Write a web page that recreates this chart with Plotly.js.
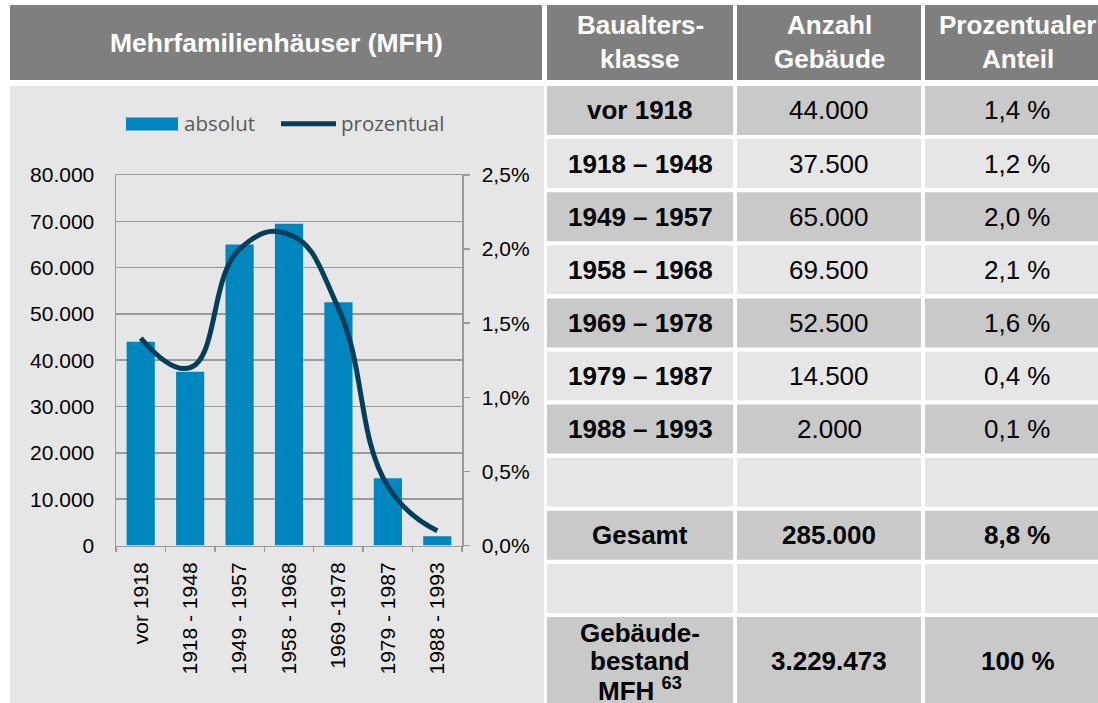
<!DOCTYPE html>
<html>
<head>
<meta charset="utf-8">
<script src="https://cdn.plot.ly/plotly-3.0.1.min.js"></script>
<style>html,body{margin:0;padding:0;background:#fff;}#chart{width:1098px;height:703px;}</style>
</head>
<body>
<div id="chart"></div>
<script>
// ---------- data ----------
const chartCategories = ['vor 1918', '1918 - 1948', '1949 - 1957', '1958 - 1968', '1969 -1978', '1979 - 1987', '1988 - 1993'];
const tableClasses = ['vor 1918', '1918 – 1948', '1949 – 1957', '1958 – 1968', '1969 – 1978', '1979 – 1987', '1988 – 1993'];
const buildingCounts = [44000, 37500, 65000, 69500, 52500, 14500, 2000];
const buildingShares = [1.4, 1.2, 2.0, 2.1, 1.6, 0.4, 0.1];
const totalLabel = 'Gesamt';
const totalCount = 285000;
const totalShare = 8.8;
const stockLabel = 'Gebäude-<br>bestand<br>MFH <sup>63</sup>';
const stockCount = 3229473;
const stockShare = 100;
const chartTitle = 'Mehrfamilienhäuser (MFH)';
const tableHeaders = ['Baualters-<br>klasse', 'Anzahl<br>Gebäude', 'Prozentualer<br>Anteil'];
const seriesNames = ['absolut', 'prozentual'];

// ---------- styling / layout constants ----------
const W = 1098, H = 703;
const BAR_COLOR = '#0086bf';
const LINE_COLOR = '#033f5b';
const HEAD_FILL = '#7f7f7f';
const DARK_FILL = '#c9c9c9';
const LIGHT_FILL = '#e6e6e6';
const AXIS_COLOR = '#9a9a9a';
const TFONT = 'Liberation Sans, Arial, sans-serif';

const px = x => x / W;
const py = y => 1 - y / H;

function fmtInt(n) { return String(n).replace(/\B(?=(\d{3})+(?!\d))/g, '.'); }
function fmtShare(v) { return (Number.isInteger(v) && v >= 10 ? String(v) : v.toFixed(1).replace('.', ',')) + ' %'; }

const shapes = [];
const annotations = [];

function rect(x0, y0, x1, y1, fill) {
  shapes.push({type: 'rect', xref: 'paper', yref: 'paper', layer: 'below',
    x0: px(x0), x1: px(x1), y0: py(y1), y1: py(y0), fillcolor: fill, line: {width: 0}});
}
function text(x, y, t, opts) {
  annotations.push(Object.assign({xref: 'paper', yref: 'paper', x: px(x), y: py(y), text: t,
    showarrow: false, xanchor: 'center', yanchor: 'middle',
    font: {family: TFONT, size: 26, color: '#000'}}, opts || {}));
}
function multiline(x, yc, t, spacing, bold, color) {
  const lines = t.split('<br>');
  const n = lines.length;
  lines.forEach((ln, k) => {
    const y = yc + (k - (n - 1) / 2) * spacing;
    text(x, y, bold ? '<b>' + ln + '</b>' : ln, {font: {family: TFONT, size: 26, color: color || '#000'}});
  });
}

// left panel
rect(10, 5, 542, 80, HEAD_FILL);
rect(10, 86, 544, 704, LIGHT_FILL);
text(276, 43, '<b>' + chartTitle + '</b>', {font: {family: TFONT, size: 26.5, color: '#fff'}});

// table
const cols = [[547, 733], [737, 921], [925, 1110]];
const colCenter = c => (c[0] + c[1]) / 2;
cols.forEach((c, j) => {
  rect(c[0], 5, c[1], 80, HEAD_FILL);
  multiline(colCenter(c), 42, tableHeaders[j], 34, true, '#fff');
});

const rows = [];
tableClasses.forEach((cl, i) => rows.push({cells: [cl, fmtInt(buildingCounts[i]), fmtShare(buildingShares[i])], bold: [true, false, false]}));
rows.push({cells: ['', '', ''], bold: [false, false, false]});
rows.push({cells: [totalLabel, fmtInt(totalCount), fmtShare(totalShare)], bold: [true, true, true]});
rows.push({cells: ['', '', ''], bold: [false, false, false]});
rows.push({cells: [stockLabel, fmtInt(stockCount), fmtShare(stockShare)], bold: [true, true, true], tall: true});

const ROW0 = 86, PITCH = 53.1, RH = 49;
rows.forEach((r, i) => {
  const top = ROW0 + i * PITCH;
  const bottom = r.tall ? 704 : top + RH;
  const fill = i % 2 === 0 ? DARK_FILL : LIGHT_FILL;
  const yc = r.tall ? 661 : top + RH / 2;
  cols.forEach((c, j) => {
    rect(c[0], top, c[1], bottom, fill);
    if (r.cells[j]) multiline(colCenter(c), yc, r.cells[j], 28.5, r.bold[j], '#000');
  });
});

// manual legend
rect(126, 117.5, 178, 130.5, BAR_COLOR);
shapes.push({type: 'line', xref: 'paper', yref: 'paper', x0: px(281), x1: px(336), y0: py(123.7), y1: py(123.7),
  line: {color: LINE_COLOR, width: 5}});
text(182, 122.5, seriesNames[0], {xanchor: 'left', font: {family: 'Open Sans, sans-serif', size: 20.5, color: '#595959'}});
text(339, 122.5, seriesNames[1], {xanchor: 'left', font: {family: 'Open Sans, sans-serif', size: 20.5, color: '#595959'}});

// ---------- traces ----------
const traces = [
  {type: 'bar', name: seriesNames[0], x: chartCategories, y: buildingCounts, marker: {color: BAR_COLOR}, hoverinfo: 'skip'},
  {type: 'scatter', mode: 'lines', name: seriesNames[1], x: chartCategories, y: buildingShares, yaxis: 'y2',
   line: {color: LINE_COLOR, width: 5, shape: 'spline', smoothing: 1.3}, hoverinfo: 'skip'}
];

const tickFont = {family: TFONT, size: 21, color: '#000'};
const layout = {
  width: W, height: H,
  margin: {l: 0, r: 0, t: 0, b: 0},
  paper_bgcolor: '#ffffff',
  plot_bgcolor: 'rgba(0,0,0,0)',
  separators: ',.',
  showlegend: false,
  bargap: 0.43,
  xaxis: {
    domain: [px(116), px(462)], type: 'category', tickson: 'boundaries',
    ticks: 'outside', ticklen: 5, tickwidth: 1.5, tickcolor: AXIS_COLOR,
    showline: true, linecolor: AXIS_COLOR, linewidth: 1.5, mirror: true,
    showgrid: false, tickangle: -90, tickfont: tickFont, ticklabelstandoff: 7, fixedrange: true
  },
  yaxis: {
    domain: [py(545.5), py(175)], range: [0, 80000], dtick: 10000, tickformat: ',d',
    showgrid: true, gridcolor: AXIS_COLOR, gridwidth: 1.6, zeroline: false,
    showline: true, linecolor: AXIS_COLOR, linewidth: 1.5, ticks: '',
    tickfont: tickFont, ticklabelstandoff: 16, fixedrange: true
  },
  yaxis2: {
    overlaying: 'y', side: 'right', anchor: 'x', range: [0, 2.5], dtick: 0.5, tickformat: '.1f', ticksuffix: '%',
    showgrid: false, zeroline: false, showline: true, linecolor: AXIS_COLOR, linewidth: 1.5,
    ticks: 'outside', ticklen: 6, tickwidth: 1.5, tickcolor: AXIS_COLOR,
    tickfont: tickFont, ticklabelstandoff: 8, fixedrange: true
  },
  shapes: shapes,
  annotations: annotations
};

Plotly.newPlot('chart', traces, layout, {displayModeBar: false, staticPlot: true});
</script>
</body>
</html>
